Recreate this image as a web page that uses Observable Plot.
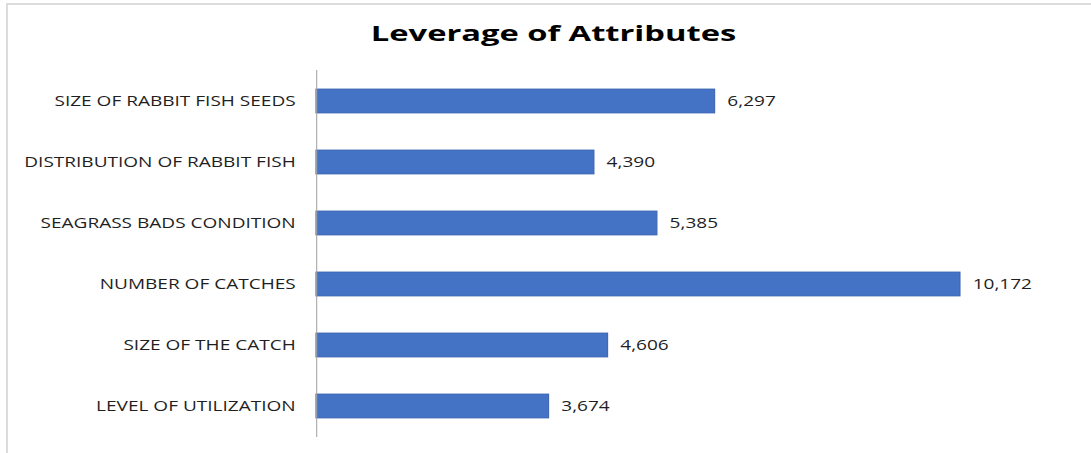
<!DOCTYPE html>
<html>
<head>
<meta charset="utf-8">
<script src="https://cdn.jsdelivr.net/npm/d3@7"></script>
<script src="https://cdn.jsdelivr.net/npm/@observablehq/plot@0.6"></script>
<style>
  html, body { margin: 0; padding: 0; background: #fff; }
  #wrap { position: relative; width: 1091px; height: 453px; overflow: hidden; font-family: "Open Sans", sans-serif; }
  #frame { position: absolute; left: 6px; top: 3px; width: 1200px; height: 600px; border: 2px solid #dcdcdc; box-sizing: border-box; }
  #title { position: absolute; left: 0; width: 1107px; top: 21px; line-height: 1; text-align: center; font-weight: 700; font-size: 22px; color: #000; transform: scaleX(1.485); transform-origin: 553.5px 50%; }
  #chart { position: absolute; left: 0; top: 0; transform: scaleX(1.36); transform-origin: 0 0; }
</style>
</head>
<body>
<div id="wrap">
  <div id="frame"></div>
  <div id="chart"></div>
  <div id="title">Leverage of Attributes</div>
</div>
<script>
const categories = [
  "SIZE OF RABBIT FISH SEEDS",
  "DISTRIBUTION OF RABBIT FISH",
  "SEAGRASS BADS CONDITION",
  "NUMBER OF CATCHES",
  "SIZE OF THE CATCH",
  "LEVEL OF UTILIZATION"
];
const values = [6297, 4390, 5385, 10172, 4606, 3674];

const data = categories.map((c, i) => ({category: c, value: values[i]}));
const fmt = d3.format(",");
const S = 1.36; // horizontal stretch of the reference

const chart = Plot.plot({
  width: 1091 / S,
  height: 453,
  marginTop: 70,
  marginBottom: 16,
  marginLeft: 316 / S,
  marginRight: 131 / S,
  style: {fontFamily: "'Open Sans', sans-serif", background: "transparent", overflow: "visible"},
  x: {domain: [0, 10172], axis: null},
  y: {domain: categories, paddingInner: 0.6, paddingOuter: 0.3, label: null},
  marks: [
    Plot.barX(data, {x: "value", y: "category", fill: "#4472C4", stroke: "#3d66b0", strokeWidth: 0.8}),
    Plot.ruleX([0], {stroke: "#a6a6a6", strokeWidth: 0.8}),
    Plot.axisY({tickSize: 0, tickPadding: 21 / S, fontSize: 14, fill: "#1f1f1f", label: null}),
    Plot.text(data, {x: "value", y: "category", text: d => fmt(d.value), dx: 12 / S, textAnchor: "start", fontSize: 14, fill: "#1f1f1f"})
  ]
});
document.getElementById("chart").appendChild(chart);
</script>
</body>
</html>
